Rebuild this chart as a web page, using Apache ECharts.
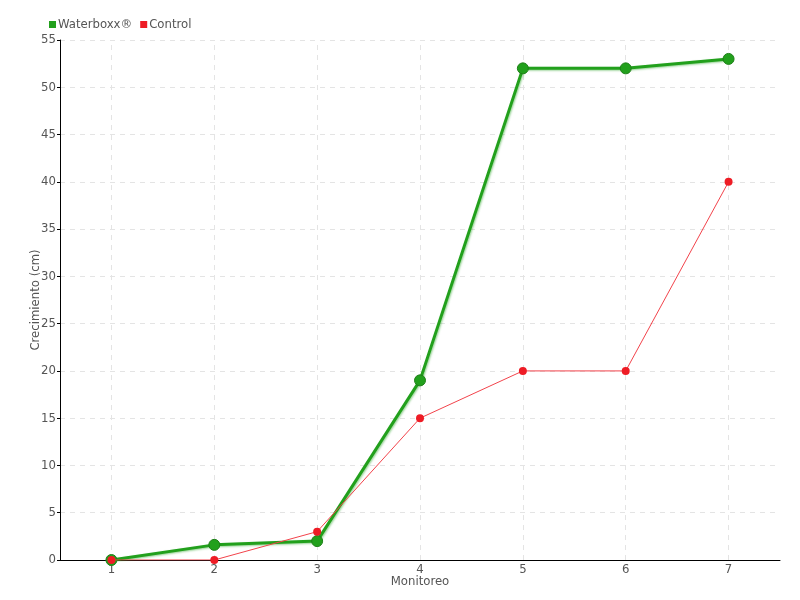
<!DOCTYPE html>
<html><head><meta charset="utf-8">
<script src="https://cdn.jsdelivr.net/npm/echarts@6/dist/echarts.min.js"></script>
<style>html,body{margin:0;padding:0;background:#fff}#c{width:800px;height:600px}</style>
</head><body><div id="c"></div>
<script>
const categories = ['1','2','3','4','5','6','7'];
const waterboxx = [0, 1.6, 2, 19, 52, 52, 53];
const control = [0, 0, 3, 15, 20, 20, 40];
const yTicks = [0,5,10,15,20,25,30,35,40,45,50,55];

const font = '"Liberation Sans Narrow", "DejaVu Sans Condensed", sans-serif';
const fs = 13;
const chart = echarts.init(document.getElementById('c'));
chart.setOption({
  animation: false,
  textStyle: {fontFamily: font},
  legend: {
    left: 44, top: 13, itemWidth: 7, itemHeight: 7, itemGap: 8,
    icon: 'rect',
    itemStyle: {borderWidth: 0},
    textStyle: {fontFamily: font, fontSize: fs, color: '#555', padding: [0,0,0,-3]},
    data: ['Waterboxx®', 'Control']
  },
  grid: {left: 60, right: 20, top: 40, bottom: 40},
  xAxis: {
    type: 'category', data: categories, boundaryGap: true,
    name: 'Monitoreo', nameLocation: 'middle', nameGap: 15, nameMoveOverlap: false,
    nameTextStyle: {fontFamily: font, fontSize: fs, color: '#555'},
    axisLine: {lineStyle: {color: '#000', width: 1}},
    axisTick: {alignWithLabel: true, inside: true, length: 5, lineStyle: {color: '#000'}},
    axisLabel: {fontFamily: font, fontSize: fs, color: '#555', margin: 3},
    splitLine: {show: false}
  },
  yAxis: {
    type: 'value', min: 0, max: 55, interval: 5,
    name: 'Crecimiento (cm)', nameLocation: 'middle', nameGap: 18, nameMoveOverlap: false,
    nameTextStyle: {fontFamily: font, fontSize: fs, color: '#555'},
    axisLine: {show: true, lineStyle: {color: '#000', width: 1}},
    axisTick: {show: true, length: 3, lineStyle: {color: '#000'}},
    axisLabel: {fontFamily: font, fontSize: fs, color: '#555', margin: 4,
      formatter: v => yTicks.includes(v) ? String(v) : ''},
    splitLine: {show: true, lineStyle: {type: [5,5], color: '#e4e4e4'}}
  },
  series: [
    {
      name: 'grid', type: 'line', data: [], z: 1, silent: true,
      markLine: {
        z: 1, silent: true, symbol: 'none', label: {show: false},
        lineStyle: {type: [5,5], color: '#e4e4e4', width: 1},
        data: categories.map(c => ({xAxis: c}))
      }
    },
    {
      name: 'Waterboxx®', type: 'line', data: waterboxx,
      color: '#22a01c',
      lineStyle: {width: 3, color: '#22a01c', shadowColor: 'rgba(34,160,28,0.45)', shadowBlur: 2, shadowOffsetX: 1, shadowOffsetY: 1},
      symbol: 'circle', symbolSize: 11,
      itemStyle: {color: '#22a01c', borderColor: '#1e7f18', borderWidth: 1},
      z: 3
    },
    {
      name: 'Control', type: 'line', data: control,
      color: '#ee1c25',
      lineStyle: {width: 1, color: '#f2434b'},
      symbol: 'circle', symbolSize: 8,
      itemStyle: {color: '#ee1c25'},
      z: 4
    }
  ]
});
</script></body></html>
